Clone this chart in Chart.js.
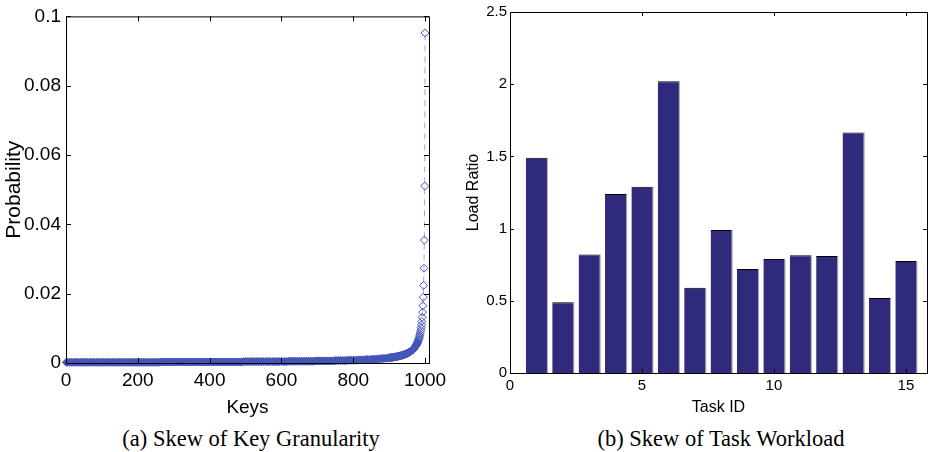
<!DOCTYPE html>
<html>
<head>
<meta charset="utf-8">
<title>Key and task skew</title>
<script src="https://cdn.jsdelivr.net/npm/chart.js@4.4.1/dist/chart.umd.min.js"></script>
<style>
  html, body { margin: 0; padding: 0; background: #fff; }
  #page { position: relative; width: 929px; height: 452px; overflow: hidden; }
  canvas { position: absolute; top: 0; }
  #keyChart { left: 0; }
  #taskChart { left: 460px; }
  .caption {
    position: absolute; top: 426px;
    font-family: 'Liberation Serif', 'Times New Roman', serif;
    font-size: 22.5px; line-height: 26px;
    white-space: nowrap; transform: translateX(-50%); color: #000;
  }
</style>
</head>
<body>
<div id="page">
  <canvas id="keyChart" width="460" height="425"></canvas>
  <canvas id="taskChart" width="469" height="425"></canvas>
  <div class="caption" style="left:251px">(a) Skew of Key Granularity</div>
  <div class="caption" style="left:721px">(b) Skew of Task Workload</div>
</div>
<script>
// key popularity, keys sorted from coldest to hottest
var keyIds = [1,
  5,10,15,20,25,30,35,40,45,50,55,60,65,70,75,80,85,90,95,100,
  105,110,115,120,125,130,135,140,145,150,155,160,165,170,175,180,185,190,195,200,
  205,210,215,220,225,230,235,240,245,250,255,260,265,270,275,280,285,290,295,300,
  305,310,315,320,325,330,335,340,345,350,355,360,365,370,375,380,385,390,395,400,
  405,410,415,420,425,430,435,440,445,450,455,460,465,470,475,480,485,490,495,500,
  505,510,515,520,525,530,535,540,545,550,555,560,565,570,575,580,585,590,595,600,
  605,610,615,620,625,630,635,640,645,650,655,660,665,670,675,680,685,690,695,700,
  705,710,715,720,725,730,735,740,745,750,755,760,765,770,775,780,785,790,795,800,
  805,810,815,820,825,830,835,840,845,850,855,860,865,870,875,880,885,890,895,900,
  902,904,906,908,910,912,914,916,918,920,922,924,926,928,930,932,934,936,938,940,942,944,946,948,950,
  951,952,953,954,955,956,957,958,959,960,961,962,963,964,965,966,967,968,969,970,
  971,972,973,974,975,976,977,978,979,980,981,982,983,984,985,986,987,988,989,990,
  991,992,993,994,995,996,997,998,999,1000];
var keyProb = [0.0002,
  0.0002,0.0002,0.0002,0.0002,0.0002,0.0002,0.0002,0.0002,0.0002,0.0002,0.0002,0.0002,0.0002,0.0002,0.0002,0.0002,0.0002,0.0002,0.0002,0.0002,
  0.0002,0.0002,0.0002,0.0002,0.0002,0.0002,0.0002,0.0002,0.0002,0.0002,0.0002,0.0002,0.0002,0.0002,0.0002,0.0002,0.0002,0.0002,0.0002,0.0002,
  0.0002,0.0002,0.0002,0.0002,0.0002,0.0002,0.0002,0.0002,0.0002,0.0002,0.0002,0.0002,0.0003,0.0003,0.0003,0.0003,0.0003,0.0003,0.0003,0.0003,
  0.0003,0.0003,0.0003,0.0003,0.0003,0.0003,0.0003,0.0003,0.0003,0.0003,0.0003,0.0003,0.0003,0.0003,0.0003,0.0003,0.0003,0.0003,0.0003,0.0003,
  0.0003,0.0003,0.0003,0.0003,0.0003,0.0003,0.0003,0.0003,0.0003,0.0003,0.0003,0.0003,0.0003,0.0003,0.0003,0.0003,0.0003,0.0003,0.0004,0.0004,
  0.0004,0.0004,0.0004,0.0004,0.0004,0.0004,0.0004,0.0004,0.0004,0.0004,0.0004,0.0004,0.0004,0.0004,0.0004,0.0004,0.0004,0.0004,0.0004,0.0004,
  0.0004,0.0004,0.0004,0.0005,0.0005,0.0005,0.0005,0.0005,0.0005,0.0005,0.0005,0.0005,0.0005,0.0005,0.0005,0.0005,0.0005,0.0005,0.0006,0.0006,
  0.0006,0.0006,0.0006,0.0006,0.0006,0.0006,0.0006,0.0006,0.0006,0.0007,0.0007,0.0007,0.0007,0.0007,0.0007,0.0007,0.0008,0.0008,0.0008,0.0008,
  0.0008,0.0008,0.0009,0.0009,0.0009,0.0009,0.0010,0.0010,0.0010,0.0010,0.0011,0.0011,0.0011,0.0012,0.0012,0.0013,0.0013,0.0014,0.0014,0.0015,
  0.00152,0.00155,0.00158,0.00161,0.00164,0.00168,0.00171,0.00175,0.00178,0.00182,0.00187,0.00191,0.00196,0.00200,0.00205,0.00211,0.00216,0.00222,0.00229,0.00235,0.00243,0.00250,0.00258,0.00267,0.00276,
  0.00282,0.00287,0.00292,0.00298,0.00304,0.00310,0.00316,0.00323,0.00330,0.00337,0.00344,0.00352,0.00361,0.00369,0.00379,0.00388,0.00399,0.00409,0.00421,0.00433,
  0.00446,0.00460,0.00475,0.00490,0.00507,0.00526,0.00545,0.00567,0.00590,0.00615,0.00643,0.00673,0.00707,0.00744,0.00786,0.00832,0.00886,0.00947,0.01017,0.01100,
  0.01199,0.01318,0.01466,0.01653,0.01899,0.02237,0.02735,0.03544,0.05104,0.0952];
var keyTicks = [0, 200, 400, 600, 800, 1000];
var probTicks = [0, 0.02, 0.04, 0.06, 0.08, 0.1];

// load of each task relative to the average
var taskIds = [1, 2, 3, 4, 5, 6, 7, 8, 9, 10, 11, 12, 13, 14, 15];
var loadRatio = [1.49, 0.49, 0.82, 1.24, 1.29, 2.02, 0.59, 0.99, 0.72, 0.79, 0.815, 0.81, 1.665, 0.52, 0.775];
var taskTicks = [0, 5, 10, 15];
var ratioTicks = [0, 0.5, 1, 1.5, 2, 2.5];

var sans = "'Liberation Sans', Arial, Helvetica, sans-serif";

// matlab style box: full frame with inward ticks on all four sides
var boxFrame = {
  id: 'boxFrame',
  afterDatasetsDraw: function(chart, args, opts) {
    var ctx = chart.ctx;
    var a = chart.chartArea;
    var xs = chart.scales.x, ys = chart.scales.y;
    var len = opts.tickLength;
    ctx.save();
    ctx.strokeStyle = '#000';
    ctx.lineWidth = 1;
    ctx.beginPath();
    xs.ticks.forEach(function(t) {
      var px = Math.round(xs.getPixelForValue(t.value)) + 0.5;
      ctx.moveTo(px, a.bottom); ctx.lineTo(px, a.bottom - len);
      ctx.moveTo(px, a.top); ctx.lineTo(px, a.top + len);
    });
    ys.ticks.forEach(function(t) {
      var py = Math.round(ys.getPixelForValue(t.value)) + 0.5;
      ctx.moveTo(a.left, py); ctx.lineTo(a.left + len, py);
      ctx.moveTo(a.right, py); ctx.lineTo(a.right - len, py);
    });
    ctx.stroke();
    ctx.strokeRect(a.left + 0.5, a.top + 0.5, a.right - a.left, a.bottom - a.top);
    ctx.restore();
  }
};

// grey shade along the right edge of each bar
var barShade = {
  id: 'barShade',
  beforeDatasetsDraw: function(chart) {
    var ctx = chart.ctx;
    ctx.save();
    ctx.fillStyle = '#a8a8a8';
    chart.getDatasetMeta(0).data.forEach(function(bar) {
      var right = bar.x + bar.width / 2;
      ctx.fillRect(right - 0.5, bar.y, 1.5, bar.base - bar.y);
    });
    ctx.restore();
  }
};

function fixedTicks(list) {
  return function(scale) {
    scale.ticks = list.map(function(v) { return { value: v }; });
  };
}

function label(v) { return String(v); }

// low keys are packed so tightly their diamonds merge into a solid band
function diamondFill(c) {
  return c.raw && c.raw.y < 0.006 ? '#4453b3' : 'rgba(0,0,0,0)';
}

var keyPoints = keyIds.map(function(k, i) { return { x: k, y: keyProb[i] }; });

new Chart(document.getElementById('keyChart'), {
  type: 'scatter',
  data: {
    datasets: [{
      data: keyPoints,
      showLine: true,
      borderColor: '#a0a7da',
      borderWidth: 1,
      borderDash: [6, 5],
      pointStyle: 'rectRot',
      pointRadius: 4,
      pointBorderWidth: 1,
      pointBorderColor: '#4656b9',
      pointBackgroundColor: diamondFill,
      clip: false
    }]
  },
  options: {
    responsive: false,
    animation: false,
    events: [],
    layout: { autoPadding: false, padding: { left: 0, top: 16, right: 31, bottom: 0 } },
    plugins: { legend: { display: false }, tooltip: { enabled: false }, boxFrame: { tickLength: 5 } },
    scales: {
      x: {
        type: 'linear', min: 0, max: 1011,
        afterBuildTicks: fixedTicks(keyTicks),
        afterFit: function(s) { s.height = 62; },
        grid: { display: false, drawTicks: false }, border: { display: false },
        ticks: { callback: label, color: '#000', padding: 6, maxRotation: 0, font: { family: sans, size: 19 } },
        title: { display: true, text: 'Keys', color: '#000', padding: { top: 0, bottom: 6 }, font: { family: sans, size: 19 } }
      },
      y: {
        type: 'linear', min: 0, max: 0.1,
        afterBuildTicks: fixedTicks(probTicks),
        afterFit: function(s) { s.width = 66; },
        grid: { display: false, drawTicks: false }, border: { display: false },
        ticks: { callback: label, color: '#000', padding: 5, font: { family: sans, size: 19 } },
        title: { display: true, text: 'Probability', color: '#000', padding: { top: 2, bottom: 0 }, font: { family: sans, size: 21 } }
      }
    }
  },
  plugins: [boxFrame]
});

var taskPoints = taskIds.map(function(t, i) { return { x: t, y: loadRatio[i] }; });

new Chart(document.getElementById('taskChart'), {
  type: 'bar',
  data: {
    datasets: [{
      data: taskPoints,
      backgroundColor: '#2f2a7b',
      borderColor: '#000',
      borderWidth: { top: 1, left: 0, right: 0, bottom: 0 },
      borderSkipped: false,
      categoryPercentage: 1,
      barPercentage: 0.8
    }]
  },
  options: {
    responsive: false,
    animation: false,
    events: [],
    layout: { autoPadding: false, padding: { left: 0, top: 12, right: 2, bottom: 0 } },
    plugins: { legend: { display: false }, tooltip: { enabled: false }, boxFrame: { tickLength: 4 } },
    scales: {
      x: {
        type: 'linear', min: 0, max: 15.8, offset: false,
        afterBuildTicks: fixedTicks(taskTicks),
        afterFit: function(s) { s.height = 52; },
        grid: { display: false, drawTicks: false, offset: false }, border: { display: false },
        ticks: { callback: label, color: '#000', padding: 4, maxRotation: 0, font: { family: sans, size: 15 } },
        title: { display: true, text: 'Task ID', color: '#000', padding: { top: 0, bottom: 8 }, font: { family: sans, size: 16 } }
      },
      y: {
        type: 'linear', min: 0, max: 2.5,
        afterBuildTicks: fixedTicks(ratioTicks),
        afterFit: function(s) { s.width = 50; },
        grid: { display: false, drawTicks: false }, border: { display: false },
        ticks: { callback: label, color: '#000', padding: 3, font: { family: sans, size: 15 } },
        title: { display: true, text: 'Load Ratio', color: '#000', padding: { top: 4, bottom: 0 }, font: { family: sans, size: 16 } }
      }
    }
  },
  plugins: [barShade, boxFrame]
});
</script>
</body>
</html>
